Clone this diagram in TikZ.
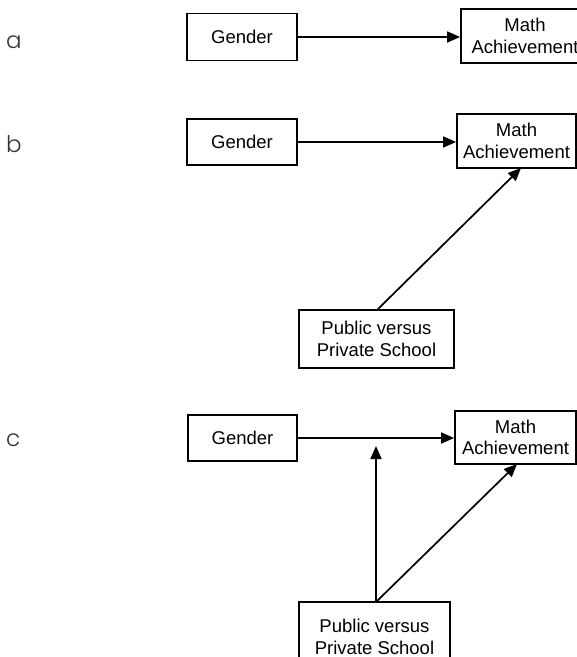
\documentclass[tikz,border=0pt]{standalone}
\usepackage{fontspec}
\setmainfont{Liberation Sans}
\newfontfamily\labfont{Poppins Light}
\usetikzlibrary{arrows.meta}
\begin{document}
\begin{tikzpicture}[x=1pt,y=-1pt,
  box/.style={draw, line width=1.8pt, inner sep=0pt, align=center, font=\fontsize{18.5}{21.5}\selectfont},
  conn/.style={line width=1.7pt, -{Triangle[length=13pt,width=11pt]}},
  lab/.style={font=\labfont\fontsize{23}{27}\selectfont, text=black!80, anchor=base west, inner sep=0pt}]
\useasboundingbox (0,0) rectangle (577,657);
\clip (0,0) rectangle (577,657);
% panel a
\node[lab] (la) at (6,48) {a};
\node[box, minimum width=110pt, minimum height=47pt] (ga) at (242,37) {Gender};
\node[box, minimum width=128pt, minimum height=54pt] (ma) at (525,36) {Math\\Achievement};
\draw[conn] (ga.east) -- (ma.west |- ga.east);
% panel b
\node[lab] (lb) at (6,152) {b};
\node[box, minimum width=110pt, minimum height=46pt] (gb) at (242,142) {Gender};
\node[box, minimum width=119pt, minimum height=54pt] (mb) at (516.5,141) {Math\\Achievement};
\node[box, minimum width=155pt, minimum height=58pt] (pb) at (376.5,339) {Public versus\\Private School};
\draw[conn] (gb.east) -- (mb.west |- gb.east);
\coordinate (pbt) at (377,310);
\coordinate (mbb) at (521,168);
\draw[conn] (pbt) -- (mbb);
% panel c
\node[lab] (lc) at (6,446) {c};
\node[box, minimum width=109pt, minimum height=46pt] (gc) at (242.5,438) {Gender};
\node[box, minimum width=121pt, minimum height=53pt] (mc) at (515.5,437.5) {Math\\Achievement};
\node[draw, line width=1.8pt, minimum width=151pt, minimum height=70pt, inner sep=0pt] (pc) at (374.5,637) {};
\node[align=center, inner sep=0pt, font=\fontsize{18.5}{21.5}\selectfont] (pct) at (374.5,637) {Public versus\\Private School};
\draw[conn] (gc.east) -- (mc.west |- gc.east);
\coordinate (pctop) at (376,602);
\coordinate (vt) at (376,446);
\coordinate (mcb) at (517,464);
\draw[conn] (pctop) -- (vt);
\draw[conn] (pctop) -- (mcb);
\end{tikzpicture}
\end{document}
